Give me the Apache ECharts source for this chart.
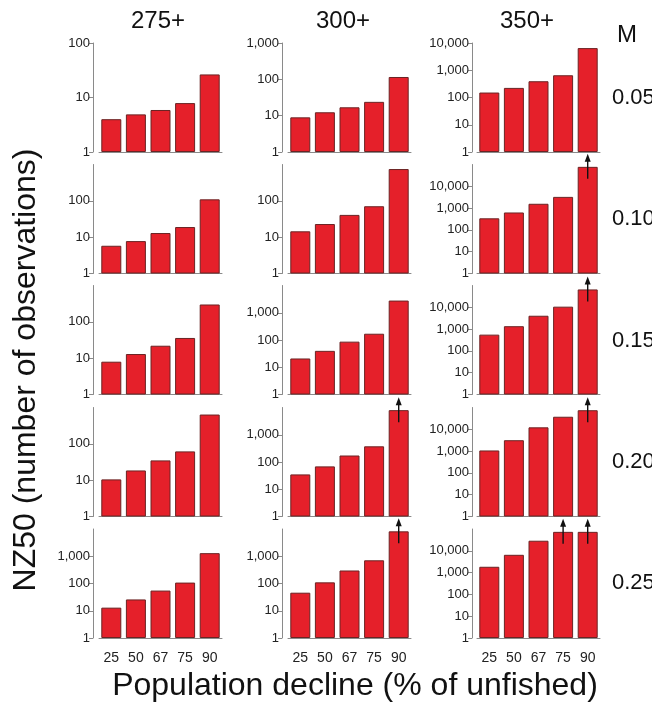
<!DOCTYPE html>
<html><head><meta charset="utf-8">
<script src="https://cdn.jsdelivr.net/npm/echarts@6/dist/echarts.min.js"></script>
<style>html,body{margin:0;padding:0;background:#fff}#c{width:652px;height:704px}</style>
</head><body><div id="c"></div>
<script>
const categories = ['25', '50', '67', '75', '90'];
const lengthClasses = ['275+', '300+', '350+'];
const mortality = ['0.05', '0.10', '0.15', '0.20', '0.25'];

// NZ50 values per M row (0.05 .. 0.25)
const nz275 = [
  [4, 4.9, 5.9, 7.9, 26.5],
  [5.8, 7.8, 13, 19, 110],
  [8, 13, 22, 36, 300],
  [10.5, 18.5, 35, 62, 640],
  [13, 26, 55, 108, 1300]
];
const nz300 = [
  [9, 12.4, 17, 24, 116],
  [14.5, 23, 41, 71, 750],
  [21, 40, 87, 170, 2800],
  [35, 69, 173, 376, 8000],
  [46, 110, 300, 710, 8200]
];
const nz350 = [
  [152, 225, 395, 655, 6500],
  [340, 630, 1580, 3270, 78000],
  [557, 1360, 4100, 10700, 66000],
  [1070, 3160, 12300, 37700, 75000],
  [1850, 6550, 29000, 74000, 74000]
];
// 1 = value is a lower bound (arrow)
const lower275 = [[0,0,0,0,0],[0,0,0,0,0],[0,0,0,0,0],[0,0,0,0,0],[0,0,0,0,0]];
const lower300 = [[0,0,0,0,0],[0,0,0,0,0],[0,0,0,0,0],[0,0,0,0,1],[0,0,0,0,1]];
const lower350 = [[0,0,0,0,0],[0,0,0,0,1],[0,0,0,0,1],[0,0,0,0,1],[0,0,0,1,1]];
// axis maxima per row
const ymax275 = [100, 1000, 1000, 1000, 10000];
const ymax300 = [1000, 1000, 10000, 10000, 10000];
const ymax350 = [10000, 100000, 100000, 100000, 100000];

const cols = [
  {vals: nz275, lower: lower275, ymax: ymax275, left: 99, offset: 6},
  {vals: nz300, lower: lower300, ymax: ymax300, left: 288, offset: 6},
  {vals: nz350, lower: lower350, ymax: ymax350, left: 477, offset: 5}
];
const rowTops = [43, 164.5, 285.5, 407.5, 529];
const gridW = 123, gridH = 109;

const grids = [], xAxes = [], yAxes = [], series = [];
let gi = 0;
for (let r = 0; r < 5; r++) {
  for (let c = 0; c < 3; c++) {
    const col = cols[c];
    grids.push({left: col.left, top: rowTops[r], width: gridW, height: gridH});
    xAxes.push({
      type: 'category', gridIndex: gi, data: categories,
      axisLine: {lineStyle: {color: '#8a8a8a', width: 1}},
      axisTick: {show: false},
      axisLabel: {show: r === 4, fontFamily: 'Liberation Sans', fontSize: 14, color: '#222', margin: 13}
    });
    const decades = Math.round(Math.log10(col.ymax[r]));
    yAxes.push({
      type: 'log', logBase: 10, gridIndex: gi, min: 1, max: col.ymax[r], splitNumber: decades,
      offset: col.offset,
      axisLine: {show: true, lineStyle: {color: '#8a8a8a', width: 1}},
      axisTick: {show: true, length: 4, lineStyle: {color: '#8a8a8a'}},
      splitLine: {show: false},
      minorTick: {show: false},
      axisLabel: {
        fontFamily: 'Liberation Sans', fontSize: 13, color: '#222', margin: 3,
        showMaxLabel: r === 0, showMinLabel: true,
        formatter: v => Math.round(v).toLocaleString('en-US')
      }
    });
    series.push({
      type: 'bar', xAxisIndex: gi, yAxisIndex: gi, barWidth: 20,
      data: col.vals[r],
      itemStyle: {color: '#E5202A', borderColor: '#6a2424', borderWidth: 1},
      silent: true
    });
    const arrows = [];
    col.lower[r].forEach((f, i) => { if (f) arrows.push([i, col.vals[r][i]]); });
    if (arrows.length) {
      series.push({
        type: 'custom', xAxisIndex: gi, yAxisIndex: gi, data: arrows, clip: false, z: 10, silent: true,
        renderItem: (params, api) => {
          const p = api.coord([api.value(0), api.value(1)]);
          return {type: 'group', children: [
            {type: 'line', shape: {x1: p[0], y1: p[1] + 12, x2: p[0], y2: p[1] - 7}, style: {stroke: '#111', lineWidth: 1.4}},
            {type: 'polygon', shape: {points: [[p[0], p[1] - 13], [p[0] - 3, p[1] - 5], [p[0] + 3, p[1] - 5]]}, style: {fill: '#111'}}
          ]};
        }
      });
    }
    gi++;
  }
}

const titles = [];
const colCenters = [153, 338, 522];
lengthClasses.forEach((t, i) => titles.push({text: t, left: colCenters[i], top: 4, textAlign: 'center',
  textStyle: {fontFamily: 'Liberation Sans', fontSize: 24, fontWeight: 'normal', color: '#111'}}));
titles.push({text: 'M', left: 622, top: 18, textAlign: 'center',
  textStyle: {fontFamily: 'Liberation Sans', fontSize: 24, fontWeight: 'normal', color: '#111'}});
const rowLabelY = [99, 220, 342, 463, 584];
mortality.forEach((t, i) => titles.push({text: t, left: 607, top: rowLabelY[i] - 17,
  textStyle: {fontFamily: 'Liberation Sans', fontSize: 22, fontWeight: 'normal', color: '#111'}}));

const chart = echarts.init(document.getElementById('c'), null, {renderer: 'canvas'});
chart.setOption({
  animation: false,
  title: titles,
  grid: grids, xAxis: xAxes, yAxis: yAxes, series: series,
  graphic: [
    {type: 'text', x: 355, y: 670,
     style: {text: 'Population decline (% of unfished)', font: '32px "Liberation Sans"', fill: '#111', textAlign: 'center', textVerticalAlign: 'top'}},
    {type: 'text', rotation: Math.PI / 2, x: 10, y: 370,
     style: {text: 'NZ50 (number of observations)', font: '32px "Liberation Sans"', fill: '#111', textAlign: 'center', textVerticalAlign: 'top'}}
  ]
});
</script></body></html>
